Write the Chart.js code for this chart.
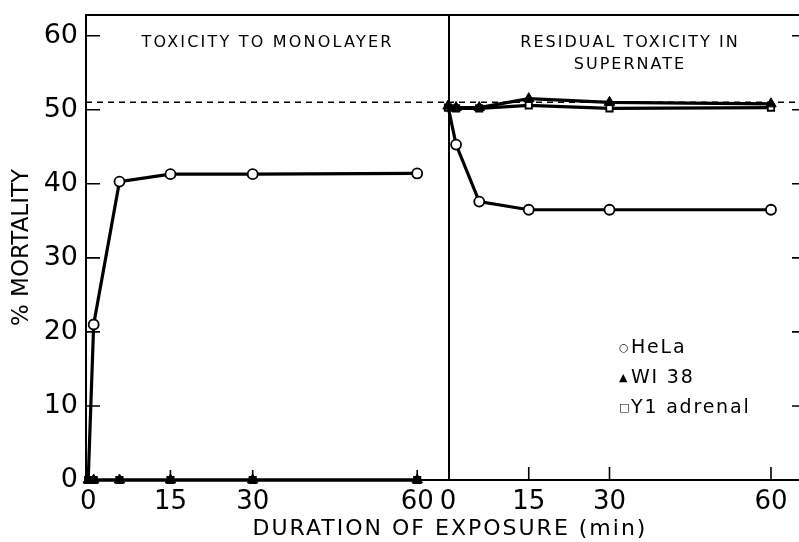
<!DOCTYPE html>
<html>
<head>
<meta charset="utf-8">
<script src="https://cdn.jsdelivr.net/npm/chart.js@4"></script>
<style>
  body { margin: 0; background: #fff; }
  #wrap { position: relative; width: 799px; height: 542px; overflow: hidden; font-family: "DejaVu Sans", sans-serif; color: #000; }
  .box { position: absolute; top: 0; height: 542px; }
  .lbl { position: absolute; white-space: nowrap; text-align: center; }
  #legend { position: absolute; left: 619px; top: 332px; font-size: 19px; line-height: 29px; letter-spacing: 1.8px; }
  #legend span.m { display: inline-block; width: 12px; font-size: 11px; vertical-align: 2px; letter-spacing: 0; }
</style>
</head>
<body>
<div id="wrap">
  <div class="box" style="left:0;width:450px"><canvas id="mono"></canvas></div>
  <div class="box" style="left:400px;width:400px"><canvas id="super"></canvas></div>
  <div class="lbl" style="left:86px;width:363px;top:32px;font-size:16px;letter-spacing:2.2px">TOXICITY TO MONOLAYER</div>
  <div class="lbl" style="left:455px;width:350px;top:31px;font-size:16px;line-height:22px;letter-spacing:2px">RESIDUAL TOXICITY IN<br>SUPERNATE</div>
  <div class="lbl" style="left:100px;width:700px;top:515px;font-size:22px;letter-spacing:2px">DURATION OF EXPOSURE (min)</div>
  <div id="legend">
    <div><span class="m">○</span>HeLa</div>
    <div><span class="m">▲</span>WI 38</div>
    <div><span class="m">□</span>Y1 adrenal</div>
  </div>
</div>
<script>
// axis ticks
const yTicks = [0, 10, 20, 30, 40, 50, 60];
const xTicks = [0, 15, 30, 60];

// toxicity to monolayer (left panel)
const monoMinutes = [0, 1, 5.7, 15, 30, 60];
const monoHeLa = [0, 21, 40.3, 41.3, 41.3, 41.4];
const monoWI38 = [0, 0, 0, 0, 0, 0];
const monoY1 = [0, 0, 0, 0, 0, 0];

// residual toxicity in supernate (right panel)
const superMinutes = [0, 1.5, 5.8, 15, 30, 60];
const superHeLa = [50.5, 45.3, 37.6, 36.5, 36.5, 36.5];
const superWI38 = [50.5, 50.3, 50.3, 51.5, 51.0, 50.8];
const superY1 = [50.3, 50.2, 50.2, 50.6, 50.2, 50.3];

// dashed reference level
const refMortality = 51;

const FONT = '"DejaVu Sans", sans-serif';

function points(xs, ys) {
    return xs.map((x, i) => ({ x: x, y: ys[i] }));
}

function makeDatasets(xs, hela, wi38, y1, xMin, xMax) {
    const base = { borderColor: '#000', borderWidth: 3.2, tension: 0, clip: false, pointBorderColor: '#000' };
    return [
        // HeLa circle at time 0 is hidden under the other markers in the original
        Object.assign({ label: 'HeLa', data: points(xs, hela), pointStyle: 'circle', pointRadius: c => (c.raw && c.raw.x === 0 ? 0 : 5), pointBackgroundColor: '#fff', pointBorderWidth: 1.8 }, base),
        Object.assign({ label: 'WI 38', data: points(xs, wi38), pointStyle: 'triangle', pointRadius: 6, pointBackgroundColor: '#000', pointBorderWidth: 1 }, base),
        Object.assign({ label: 'Y1 adrenal', data: points(xs, y1), pointStyle: 'rect', pointRadius: 4.5, pointBackgroundColor: '#fff', pointBorderWidth: 1.8 }, base),
        { label: 'ref', data: [{ x: xMin, y: refMortality }, { x: xMax, y: refMortality }], borderColor: '#000', borderWidth: 1.5, borderDash: [6, 5], pointRadius: 0, clip: false }
    ];
}

// draws the frame and the inward tick marks
const framePlugin = {
    id: 'frame',
    afterDraw(chart, args, opts) {
        const ctx = chart.ctx;
        const a = chart.chartArea;
        const xs = chart.scales.x, ys = chart.scales.y;
        ctx.save();
        ctx.strokeStyle = '#000';
        ctx.lineWidth = 2;
        ctx.beginPath();
        ctx.moveTo(a.left, a.top);
        ctx.lineTo(a.right, a.top);
        if (opts.divider) {
            ctx.moveTo(a.right, a.top);
            ctx.lineTo(a.right, a.bottom);
        }
        ctx.stroke();
        ctx.lineWidth = 1.6;
        ctx.beginPath();
        xTicks.forEach(v => {
            if (v === 0) return;
            const px = xs.getPixelForValue(v);
            ctx.moveTo(px, a.bottom);
            ctx.lineTo(px, a.bottom - opts.xLen);
        });
        yTicks.forEach(v => {
            if (v === 0) return;
            const py = ys.getPixelForValue(v);
            if (opts.ySide === 'left') {
                ctx.moveTo(a.left, py);
                ctx.lineTo(a.left + opts.yLen, py);
            } else {
                ctx.moveTo(a.right, py);
                ctx.lineTo(a.right - opts.yLen, py);
            }
        });
        ctx.stroke();
        ctx.restore();
    }
};

function xScale(min, max) {
    return {
        type: 'linear', min: min, max: max,
        afterBuildTicks: s => { s.ticks = xTicks.map(v => ({ value: v })); },
        afterFit: s => { s.height = 62; s.paddingLeft = 0; s.paddingRight = 0; },
        grid: { display: false, drawTicks: false },
        border: { color: '#000', width: 2 },
        ticks: { color: '#000', padding: 7, autoSkip: false, maxRotation: 0, font: { family: FONT, size: 26 } }
    };
}

function yScale(show) {
    return {
        type: 'linear', min: 0, max: 62.8, display: show,
        afterBuildTicks: s => { s.ticks = yTicks.map(v => ({ value: v })); },
        afterFit: s => { s.width = show ? 86 : 0; s.paddingTop = 0; s.paddingBottom = 0; },
        grid: { display: false, drawTicks: false },
        border: { color: '#000', width: 2 },
        ticks: { color: '#000', padding: 8, font: { family: FONT, size: 27 } },
        title: { display: true, text: '% MORTALITY', color: '#000', padding: { top: 8, bottom: 0 }, font: { family: FONT, size: 23 } }
    };
}

function makeChart(id, xs, hela, wi38, y1, xMin, xMax, pad, showY, frameOpts) {
    return new Chart(document.getElementById(id), {
        type: 'line',
        data: { datasets: makeDatasets(xs, hela, wi38, y1, xMin, xMax) },
        options: {
            responsive: true,
            maintainAspectRatio: false,
            animation: false,
            layout: { padding: pad, autoPadding: false },
            plugins: { legend: { display: false }, tooltip: { enabled: false }, frame: frameOpts },
            scales: { x: xScale(xMin, xMax), y: yScale(showY) }
        },
        plugins: [framePlugin]
    });
}

makeChart('mono', monoMinutes, monoHeLa, monoWI38, monoY1, -0.4, 65.8,
    { top: 15, right: 1, left: 0, bottom: 0 }, true, { divider: true, ySide: 'left', yLen: 14, xLen: 10 });
makeChart('super', superMinutes, superHeLa, superWI38, superY1, 0, 65.39,
    { top: 15, right: 0, left: 48, bottom: 0 }, false, { divider: false, ySide: 'right', yLen: 8, xLen: 13 });
</script>
</body>
</html>
